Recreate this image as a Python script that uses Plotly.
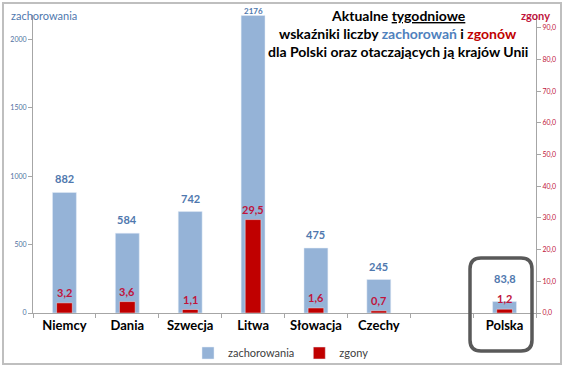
import plotly.graph_objects as go

categories = ["Niemcy", "Dania", "Szwecja", "Litwa", "Słowacja", "Czechy", " ", "Polska"]
zachorowania = [882, 584, 742, 2176, 475, 245, None, 83.8]
zgony = [3.2, 3.6, 1.1, 29.5, 1.6, 0.7, None, 1.2]
zach_labels = ["882", "584", "742", "2176", "475", "245", "", "83,8"]
zgony_labels = ["3,2", "3,6", "1,1", "29,5", "1,6", "0,7", "", "1,2"]

FONT = "Lato"
BLUE_BAR = "#95B3D7"
RED_BAR = "#C00000"
BLUE_TXT = "#4F78AE"
RED_TXT = "#C0143C"

Y1_MAX = 2180
Y2_MAX = 94.1

# plot area in pixels
L, R, T, B = 33, 28, 15, 57
W, H = 564, 370
PW, PH = W - L - R, H - T - B

fig = go.Figure()
fig.add_trace(go.Bar(x=categories, y=zachorowania, name="zachorowania",
                     marker_color=BLUE_BAR, width=0.38, yaxis="y"))
fig.add_trace(go.Bar(x=categories, y=zgony, name="zgony",
                     marker_color=RED_BAR, width=0.25, yaxis="y2"))

annotations = []
for c, v1, v2, t1, t2 in zip(categories, zachorowania, zgony, zach_labels, zgony_labels):
    if v1 is None:
        continue
    red_top_px = v2 * PH / Y2_MAX
    blue_top_px = v1 * PH / Y1_MAX
    annotations.append(dict(x=c, y=v2, xref="x", yref="y2", text="<b>%s</b>" % t2,
                            showarrow=False, yanchor="bottom", yshift=2,
                            font=dict(family=FONT, size=11, color=RED_TXT)))
    red_label_top = red_top_px + 2 + 14
    shift = max(5, red_label_top + 6 - blue_top_px)
    size = 11
    if v1 > 0.97 * Y1_MAX:
        size = 8
        shift = -2
    annotations.append(dict(x=c, y=v1, xref="x", yref="y", text="<b>%s</b>" % t1,
                            showarrow=False, yanchor="bottom", yshift=shift,
                            font=dict(family=FONT, size=size, color=BLUE_TXT)))

def px_x(x):
    return (x - L) / PW

def px_y(y):
    return (H - B - y) / PH

annotations.append(dict(xref="paper", yref="paper", x=px_x(9), y=px_y(15),
                        xanchor="left", yanchor="middle", showarrow=False,
                        text="zachorowania", font=dict(family=FONT, size=11, color=BLUE_TXT)))
annotations.append(dict(xref="paper", yref="paper", x=px_x(535), y=px_y(15),
                        xanchor="center", yanchor="middle", showarrow=False,
                        text="<b>zgony</b>", font=dict(family=FONT, size=11, color=RED_TXT)))
title_lines = [
    (15, "<b>Aktualne <u>tygodniowe</u></b>"),
    (33, "<b>wskaźniki liczby <span style='color:#4F81BD'>zachorowań</span> i "
         "<span style='color:#C00000'>zgonów</span></b>"),
    (52, "<b>dla Polski oraz otaczających ją krajów Unii</b>"),
]
for ypx, txt in title_lines:
    annotations.append(dict(xref="paper", yref="paper", x=px_x(398), y=px_y(ypx),
                            xanchor="center", yanchor="middle", showarrow=False,
                            text=txt, font=dict(family=FONT, size=14, color="black")))

# rounded box around Polska
x0, x1, y0, y1, r = 470, 532, 258, 351, 11
path = ("M {a},{b} L {c},{b} Q {d},{b} {d},{e} L {d},{f} Q {d},{g} {c},{g} "
        "L {a},{g} Q {h},{g} {h},{f} L {h},{e} Q {h},{b} {a},{b} Z").format(
    a=px_x(x0 + r), c=px_x(x1 - r), d=px_x(x1), h=px_x(x0),
    b=px_y(y0), e=px_y(y0 + r), f=px_y(y1 - r), g=px_y(y1))
shapes = [
    dict(type="path", xref="paper", yref="paper", path=path,
         line=dict(color="#595959", width=3.5), layer="above"),
    dict(type="rect", xref="paper", yref="paper", x0=px_x(3), x1=px_x(561),
         y0=px_y(364), y1=px_y(3), line=dict(color="#BFBFBF", width=2), layer="below"),
]

fig.update_layout(
    width=W, height=H,
    margin=dict(l=L, r=R, t=T, b=B, autoexpand=False),
    paper_bgcolor="white", plot_bgcolor="white",
    barmode="overlay",
    separators=", ",
    font=dict(family=FONT),
    showlegend=True,
    legend=dict(orientation="h", x=px_x(188), xanchor="left", y=px_y(353), yanchor="middle",
                font=dict(family=FONT, size=11, color="#404040"), itemwidth=30,
                traceorder="normal", bgcolor="rgba(0,0,0,0)"),
    xaxis=dict(type="category", showline=True, linecolor="#A6A6A6", linewidth=1,
               ticks="outside", tickson="boundaries", ticklen=4, tickcolor="#A6A6A6",
               tickfont=dict(family=FONT, size=13, color="black", weight="bold"),
               showgrid=False, zeroline=False),
    yaxis=dict(range=[0, Y1_MAX], tickvals=[0, 500, 1000, 1500, 2000], showline=True,
               linecolor="#A6A6A6", ticks="outside", ticklen=4, tickcolor="#A6A6A6",
               tickfont=dict(family=FONT, size=7, color="#4F6E9E"), showgrid=False,
               zeroline=False),
    yaxis2=dict(range=[0, Y2_MAX], overlaying="y", side="right", dtick=10,
                tickformat=".1f", showline=True, linecolor="#A6A6A6", ticks="outside",
                ticklen=4, tickcolor="#A6A6A6",
                tickfont=dict(family=FONT, size=7, color=RED_TXT), showgrid=False,
                zeroline=False),
    annotations=annotations,
    shapes=shapes,
)

fig.write_html("out.html", config={"displayModeBar": False},
               post_script="document.body.style.margin='0';document.body.style.overflow='hidden';")
